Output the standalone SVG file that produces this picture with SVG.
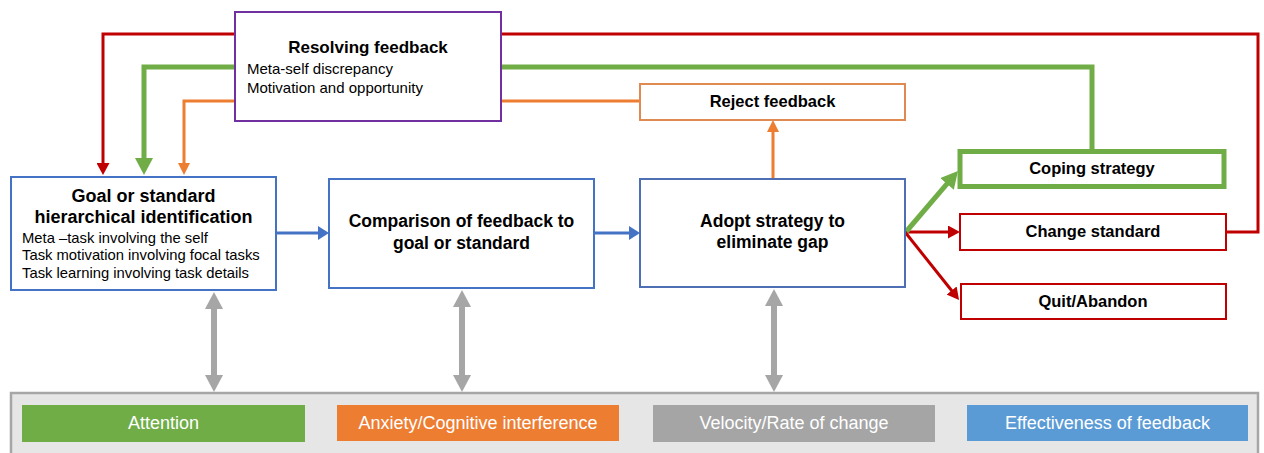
<svg xmlns="http://www.w3.org/2000/svg" width="1264" height="453" viewBox="0 0 1264 453">
<style>
.box{fill:#fff;stroke-width:2}
.blue{stroke:#4472C4}
.red{stroke:#C00000}
.thick{stroke:#70AD47;stroke-width:5}
.t{font-family:"Liberation Sans",Arial,sans-serif;fill:#000}
.b{font-weight:bold}
.m{text-anchor:middle}
.w{fill:#fff;font-size:18px}
.ln{fill:none;stroke-linejoin:miter}
</style>
<defs>
<marker id="aRed" markerUnits="userSpaceOnUse" viewBox="0 0 12 13" refX="1" refY="6.5" markerWidth="12" markerHeight="13" orient="auto"><path d="M0,0 L12,6.5 L0,13 z" fill="#C00000"/></marker>
<marker id="aGreen" markerUnits="userSpaceOnUse" viewBox="0 0 17 18" refX="1" refY="9" markerWidth="17" markerHeight="18" orient="auto"><path d="M0,0 L17,9 L0,18 z" fill="#70AD47"/></marker>
<marker id="aOrange" markerUnits="userSpaceOnUse" viewBox="0 0 12 12" refX="1" refY="6" markerWidth="12" markerHeight="12" orient="auto"><path d="M0,0 L12,6 L0,12 z" fill="#ED7D31"/></marker>
<marker id="aBlue" markerUnits="userSpaceOnUse" viewBox="0 0 11 14" refX="1" refY="7" markerWidth="11" markerHeight="14" orient="auto"><path d="M0,0 L11,7 L0,14 z" fill="#4472C4"/></marker>
<marker id="aGray" markerUnits="userSpaceOnUse" viewBox="0 0 17 18" refX="1" refY="9" markerWidth="17" markerHeight="18" orient="auto-start-reverse"><path d="M0,0 L17,9 L0,18 z" fill="#A6A6A6"/></marker>
</defs>

<g id="connectors">
<path class="ln" d="M1226,232 H1258 V34 H103 V164" stroke="#C00000" stroke-width="3" marker-end="url(#aRed)"/>
<path class="ln" d="M1092,149 V67 H144 V159" stroke="#70AD47" stroke-width="5" marker-end="url(#aGreen)"/>
<path class="ln" d="M640,101 H184 V164" stroke="#ED7D31" stroke-width="3" marker-end="url(#aOrange)"/>
<path class="ln" d="M773,179 V131" stroke="#ED7D31" stroke-width="3" marker-end="url(#aOrange)"/>
<path class="ln" d="M277,233 H319" stroke="#4472C4" stroke-width="3" marker-end="url(#aBlue)"/>
<path class="ln" d="M595,233 H630" stroke="#4472C4" stroke-width="3" marker-end="url(#aBlue)"/>
<path class="ln" d="M905,232 H949" stroke="#C00000" stroke-width="3" marker-end="url(#aRed)"/>
<path class="ln" d="M905,233 L947.6,183.2" stroke="#70AD47" stroke-width="5" marker-end="url(#aGreen)"/>
<path class="ln" d="M905,232 L952.2,291.3" stroke="#C00000" stroke-width="3" marker-end="url(#aRed)"/>
<path class="ln" d="M214,308 V376" stroke="#A6A6A6" stroke-width="6" marker-start="url(#aGray)" marker-end="url(#aGray)"/>
<path class="ln" d="M462,306 V376" stroke="#A6A6A6" stroke-width="6" marker-start="url(#aGray)" marker-end="url(#aGray)"/>
<path class="ln" d="M774,305 V376" stroke="#A6A6A6" stroke-width="6" marker-start="url(#aGray)" marker-end="url(#aGray)"/>
</g>

<g id="resolving">
<rect class="box" x="235" y="12" width="266" height="109" stroke="#7030A0"/>
<text class="t b m" x="368" y="53" font-size="17">Resolving feedback</text>
<text class="t" x="247" y="74" font-size="15">Meta-self discrepancy</text>
<text class="t" x="247" y="93" font-size="15">Motivation and opportunity</text>
</g>

<g id="goal">
<rect class="box blue" x="11" y="177" width="265" height="113"/>
<text class="t b m" x="143.5" y="202" font-size="18">Goal or standard</text>
<text class="t b m" x="143.5" y="223" font-size="18">hierarchical identification</text>
<text class="t" x="22" y="243" font-size="14.8">Meta –task involving the self</text>
<text class="t" x="22" y="260" font-size="14.8">Task motivation involving focal tasks</text>
<text class="t" x="22" y="277.5" font-size="14.8">Task learning involving task details</text>
</g>

<g id="comparison">
<rect class="box blue" x="329" y="179" width="265" height="109"/>
<text class="t b m" x="461.5" y="227" font-size="17.5">Comparison of feedback to</text>
<text class="t b m" x="461.5" y="249" font-size="17.5">goal or standard</text>
</g>

<g id="adopt">
<rect class="box" x="640" y="179" width="265" height="108" stroke="#4F6FB5"/>
<text class="t b m" x="772.5" y="227" font-size="17.5">Adopt strategy to</text>
<text class="t b m" x="772.5" y="248" font-size="17.5">eliminate gap</text>
</g>

<g id="reject">
<rect class="box" x="640" y="84" width="265" height="36" stroke="#DE8A50"/>
<text class="t b m" x="772.5" y="107" font-size="16.5">Reject feedback</text>
</g>

<g id="coping">
<rect class="box thick" x="960" y="151.5" width="264" height="35"/>
<text class="t b m" x="1092" y="174" font-size="16.5">Coping strategy</text>
</g>

<g id="change">
<rect class="box red" x="960" y="214" width="266" height="36"/>
<text class="t b m" x="1093" y="237" font-size="16.5">Change standard</text>
</g>

<g id="quit">
<rect class="box red" x="961" y="284" width="265" height="35"/>
<text class="t b m" x="1093" y="307" font-size="16.5">Quit/Abandon</text>
</g>

<g id="moderators">
<rect x="11" y="393" width="1247" height="70" fill="#E7E6E6" stroke="#A6A6A6" stroke-width="2.5"/>
<g id="attention">
<rect x="22" y="405" width="283" height="37" fill="#70AD47"/>
<text class="t w m" x="163.5" y="429">Attention</text>
</g>
<g id="anxiety">
<rect x="337" y="405" width="282" height="36" fill="#ED7D31"/>
<text class="t w m" x="478" y="429">Anxiety/Cognitive interference</text>
</g>
<g id="velocity">
<rect x="653" y="405" width="282" height="37" fill="#A5A5A5"/>
<text class="t w m" x="794" y="429">Velocity/Rate of change</text>
</g>
<g id="effectiveness">
<rect x="967" y="405" width="281" height="36" fill="#5B9BD5"/>
<text class="t w m" x="1107.5" y="429">Effectiveness of feedback</text>
</g>
</g>
</svg>
